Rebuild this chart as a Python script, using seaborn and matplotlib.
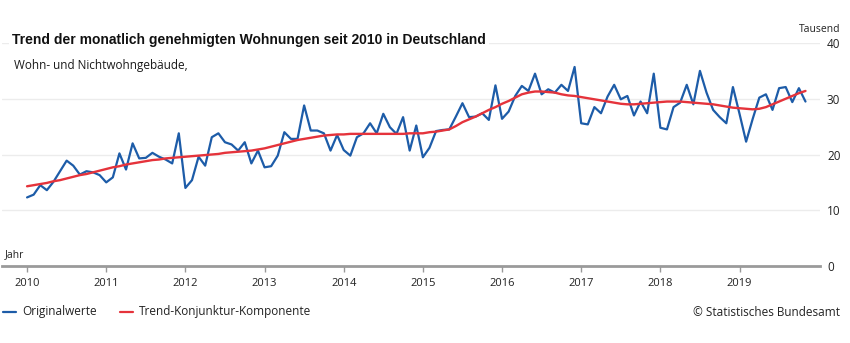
import numpy as np
import pandas as pd
import matplotlib
matplotlib.use("Agg")
import matplotlib.pyplot as plt
import seaborn as sns

# ---- data (thousands of approved dwellings, monthly Jan 2010 .. Nov 2019) ----
years = ["2010", "2011", "2012", "2013", "2014", "2015", "2016", "2017", "2018", "2019"]
original = [
    12.3, 12.8, 14.5, 13.6, 15.1, 17.0, 18.9, 18.0, 16.4, 17.0, 16.8, 16.3,
    15.0, 15.9, 20.2, 17.3, 22.0, 19.3, 19.4, 20.3, 19.6, 19.1, 18.4, 23.8,
    14.0, 15.4, 19.6, 18.0, 23.1, 23.8, 22.2, 21.8, 20.7, 22.2, 18.4, 20.7,
    17.7, 17.9, 19.8, 24.0, 22.8, 22.8, 28.8, 24.3, 24.3, 23.8, 20.7, 23.5,
    20.8, 19.8, 23.1, 23.8, 25.6, 23.8, 27.3, 24.9, 23.7, 26.7, 20.7, 25.2,
    19.5, 21.2, 24.2, 24.4, 24.5, 26.8, 29.2, 26.7, 26.8, 27.4, 26.2, 32.4,
    26.4, 27.7, 30.5, 32.3, 31.4, 34.5, 30.8, 31.7, 31.1, 32.5, 31.4, 35.7,
    25.6, 25.4, 28.5, 27.4, 30.4, 32.5, 29.9, 30.5, 27.0, 29.5, 27.4, 34.5,
    24.8, 24.5, 28.5, 29.3, 32.5, 29.0, 35.0, 31.1, 28.0, 26.7, 25.6, 32.1,
    27.3, 22.3, 26.4, 30.2, 30.8, 28.0, 31.9, 32.1, 29.4, 31.9, 29.5,
]
trend = [
    14.3, 14.5, 14.7, 14.9, 15.2, 15.4, 15.7, 16.0, 16.3, 16.5, 16.8, 17.1,
    17.4, 17.7, 17.9, 18.2, 18.4, 18.6, 18.8, 19.0, 19.1, 19.3, 19.4, 19.5,
    19.6, 19.7, 19.8, 19.9, 20.0, 20.1, 20.3, 20.4, 20.5, 20.6, 20.7, 20.9,
    21.1, 21.4, 21.7, 22.0, 22.3, 22.6, 22.8, 23.0, 23.2, 23.4, 23.5, 23.6,
    23.6, 23.7, 23.7, 23.7, 23.7, 23.7, 23.7, 23.7, 23.7, 23.7, 23.8, 23.8,
    23.8, 24.0, 24.1, 24.3, 24.5, 25.1, 25.8, 26.3, 26.8, 27.4, 28.0, 28.5,
    29.1, 29.6, 30.2, 30.8, 31.1, 31.3, 31.3, 31.2, 31.1, 30.8, 30.6, 30.5,
    30.3, 30.1, 29.9, 29.7, 29.5, 29.3, 29.1, 29.0, 29.0, 29.1, 29.2, 29.3,
    29.4, 29.5, 29.5, 29.5, 29.4, 29.3, 29.2, 29.1, 29.0, 28.8, 28.6, 28.4,
    28.3, 28.2, 28.1, 28.2, 28.5, 29.0, 29.5, 30.0, 30.5, 31.0, 31.4,
]
y_ticks = [0, 10, 20, 30, 40]

BLUE = "#1d5ca8"
RED = "#e5333b"

sns.set_theme(style="white")
plt.rcParams["font.family"] = ["Open Sans", "DejaVu Sans"]

month = np.arange(len(original))
df = pd.DataFrame({"Monat": month, "Originalwerte": original,
                   "Trend-Konjunktur-Komponente": trend})

fig = plt.figure(figsize=(8.5, 3.43), dpi=100)
ax = fig.add_axes([2 / 850, 77 / 343, 818 / 850, 223 / 343])

sns.lineplot(data=df, x="Monat", y="Originalwerte", ax=ax, color=BLUE,
             linewidth=1.6, zorder=3)
sns.lineplot(data=df, x="Monat", y="Trend-Konjunktur-Komponente", ax=ax,
             color=RED, linewidth=1.7, zorder=4)

ax.set_xlim(-3.8, 120.2)
ax.set_ylim(0, 40)
ax.set_xlabel("")
ax.set_ylabel("")

ax.set_xticks(np.arange(len(years)) * 12)
ax.set_xticklabels(years, fontsize=8, color="#222222")
ax.tick_params(axis="x", length=4, width=1, color="#999999", pad=5, bottom=True)

ax.yaxis.tick_right()
ax.set_yticks(y_ticks)
ax.set_yticklabels([str(v) for v in y_ticks], fontsize=8.5, color="#222222")
ax.tick_params(axis="y", length=0, pad=5)

for v in y_ticks[1:]:
    ax.axhline(v, color="#ececec", linewidth=1, zorder=0)

for s in ["top", "left", "right"]:
    ax.spines[s].set_visible(False)
ax.spines["bottom"].set_color("#9a9a9a")
ax.spines["bottom"].set_linewidth(2)
ax.spines["bottom"].set_zorder(5)

# texts
fig.text(12 / 850, 1 - 40 / 343, "Trend der monatlich genehmigten Wohnungen seit 2010 in Deutschland",
         fontsize=10, fontweight="bold", color="#111111", va="center", ha="left",
         family=["Liberation Sans Narrow", "Liberation Sans", "DejaVu Sans"],
         bbox=dict(facecolor="white", edgecolor="none", pad=2))
fig.text(14 / 850, 1 - 66 / 343, "Wohn- und Nichtwohngebäude,", fontsize=8.5,
         color="#1a1a1a", va="center", ha="left")
fig.text(840 / 850, 1 - 29 / 343, "Tausend", fontsize=7.5, color="#222222",
         va="center", ha="right")
fig.text(5 / 850, 1 - 255 / 343, "Jahr", fontsize=7.5, color="#222222",
         va="center", ha="left")

# legend
ly = 1 - 312 / 343
fig.lines.append(plt.Line2D([3 / 850, 16 / 850], [ly, ly], color=BLUE, linewidth=1.6,
                            transform=fig.transFigure))
fig.text(22 / 850, ly, "Originalwerte", fontsize=8.5, color="#222222", va="center")
fig.lines.append(plt.Line2D([120 / 850, 133 / 850], [ly, ly], color=RED, linewidth=1.6,
                            transform=fig.transFigure))
fig.text(139 / 850, ly, "Trend-Konjunktur-Komponente", fontsize=8.5, color="#222222",
         va="center")
fig.text(840 / 850, ly, "© Statistisches Bundesamt", fontsize=8.5, color="#222222",
         va="center", ha="right")

fig.savefig("out.png", dpi=100, facecolor="white")
